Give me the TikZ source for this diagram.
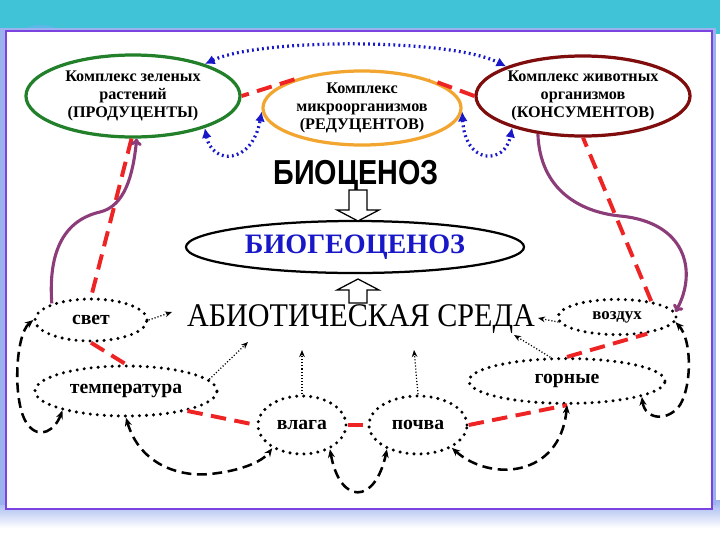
\documentclass[tikz,border=0pt]{standalone}
\usepackage{fontspec}
\setmainfont{Liberation Serif}
\newfontfamily\artfont{Liberation Sans}
\usetikzlibrary{shapes, arrows.meta}

\definecolor{slidecyan}{HTML}{40C3D6}
\definecolor{slidewave}{HTML}{5BB8E8}
\definecolor{slideshadow}{HTML}{9CB2EE}
\definecolor{framepurple}{HTML}{7B44E0}
\definecolor{plantgreen}{HTML}{23802A}
\definecolor{microorange}{HTML}{F2A630}
\definecolor{animalred}{HTML}{7F0D0D}
\definecolor{chainred}{HTML}{EE2424}
\definecolor{linkblue}{HTML}{1818C8}
\definecolor{flowpurple}{HTML}{8C3C78}

\begin{document}
\begin{tikzpicture}[x=0.025cm, y=-0.025cm,
    complex/.style = {draw, ellipse, line width=2.3pt, fill=white, inner sep=0pt, align=center,
        font=\fontsize{11.5}{12.5}\selectfont\bfseries},
    factor/.style = {draw, ellipse, line width=2.4pt, dash pattern=on 0pt off 5pt, line cap=round,
        inner sep=0pt, font=\fontsize{14}{16}\selectfont\bfseries},
    hollow/.style = {draw, fill=white, line width=0.9pt},
    chain/.style = {chainred, line width=2.8pt, dash pattern=on 11pt off 6pt},
    swap/.style = {linkblue, line width=2.3pt, dash pattern=on 1.3pt off 2.3pt,
        {Latex[length=7pt, width=7pt]}-{Latex[length=7pt, width=7pt]}},
    flow/.style = {flowpurple, line width=2.2pt, -{To[length=5pt, width=8pt]}},
    effect/.style = {line width=0.9pt, dash pattern=on 0.8pt off 1.4pt, -{Stealth[length=5pt, width=4pt]}},
    feedback/.style = {line width=1.8pt, dash pattern=on 7pt off 4pt,
        {Stealth[length=6pt, width=5pt]}-{Stealth[length=6pt, width=5pt]}}]

    \fill[white] (0, 0) rectangle (720, 540);
    \fill[slidecyan] (0, 0) rectangle (720, 34);
    \fill[slidewave] (20, 34) .. controls (25, 22) and (55, 22) .. (65, 34) -- cycle;
    \shade[top color=slideshadow, bottom color=white] (0, 500) rectangle (720, 528);
    \fill[slideshadow] (0, 28) rectangle (716, 505);
    \draw[framepurple, line width=2pt, fill=white] (6, 31) rectangle (712, 509);

    \node[complex, draw=plantgreen, minimum width=5.35cm, minimum height=2.05cm] at (133, 96) (P) {Комплекс зеленых\\растений\\(ПРОДУЦЕНТЫ)};
    \node[complex, draw=microorange, minimum width=4.95cm, minimum height=1.85cm] at (362, 108) (R) {Комплекс\\микроорганизмов\\(РЕДУЦЕНТОВ)};
    \node[complex, draw=animalred, minimum width=5.35cm, minimum height=2.0cm] at (583, 96) (K) {Комплекс животных\\организмов\\(КОНСУМЕНТОВ)};

    \node[font=\artfont\bfseries\fontsize{22}{24}\selectfont] at (356, 176) (BC) {\scalebox{0.93}[1.12]{БИОЦЕНОЗ}};
    \node[draw, ellipse, line width=1.6pt, minimum width=8.45cm, minimum height=1.3cm, text=linkblue,
        font=\fontsize{20}{22}\selectfont\bfseries] at (355, 247) (BGC) {БИОГЕОЦЕНОЗ};
    \node[font=\fontsize{21}{24}\selectfont] at (361, 319) (AS) {\scalebox{1.02}[1.12]{АБИОТИЧЕСКАЯ СРЕДА}};
    \draw[hollow] (349, 190) -- (367, 190) -- (367, 210) -- (379, 210) -- (358, 221) -- (337, 210) -- (349, 210) -- cycle;
    \draw[hollow] (349, 303) -- (367, 303) -- (367, 290) -- (379, 290) -- (358, 279) -- (337, 290) -- (349, 290) -- cycle;

    \node[factor, minimum width=2.8cm, minimum height=1.05cm] at (91, 320) (L) {свет};
    \node[factor, minimum width=4.55cm, minimum height=1.25cm] at (126, 391) (T) {температура};
    \node[factor, minimum width=2.2cm, minimum height=1.45cm] at (302, 425) (W) {влага};
    \node[factor, minimum width=2.45cm, minimum height=1.45cm] at (418, 425) (S) {почва};
    \node[factor, minimum width=4.9cm, minimum height=1.12cm] at (567, 381) (M) {горные};
    \node[factor, minimum width=2.95cm, minimum height=0.88cm, font=\fontsize{12}{14}\selectfont\bfseries] at (617, 317) (V) {воздух};

    \coordinate (aL) at (172, 312);
    \coordinate (aT) at (248, 342);
    \coordinate (aW) at (302, 350);
    \coordinate (aS) at (414, 350);
    \coordinate (aM) at (514, 335);
    \coordinate (aV) at (538, 318);

    \draw[chain] (P.-92) -- (L.north);
    \draw[chain] (L.south) -- (T.north);
    \draw[chain] (T.-18) -- (W.west);
    \draw[chain] (W.east) -- (S.west);
    \draw[chain] (S.east) -- (M.south);
    \draw[chain] (M.north) -- (V.-29);
    \draw[chain] (V.25) -- (K.south);
    \draw[chain] (K.west) -- (R.23);
    \draw[chain] (R.157) -- (P.east);

    \draw[swap] (P.24) .. controls (260, 38) and (450, 38) .. (K.159);
    \draw[swap] (P.-24) .. controls (212, 165) and (252, 165) .. (R.182);
    \draw[swap] (R.-2) .. controls (465, 165) and (505, 165) .. (K.204);

    \draw[flow] (L.157) .. controls (48, 250) and (65, 220) .. (100, 212) .. controls (125, 206) and (133, 175) .. (P.-85);
    \draw[flow] (K.220) .. controls (540, 190) and (580, 212) .. (620, 216) .. controls (685, 222) and (698, 270) .. (V.5);

    \draw[effect] (L.east) -- (aL);
    \draw[effect] (T.8) -- (aT);
    \draw[effect] (W.north) -- (aW);
    \draw[effect] (S.north) -- (aS);
    \draw[effect] (M.125) -- (aM);
    \draw[effect] (V.185) -- (aV);

    \draw[feedback] (L.west) .. controls (15, 335) and (12, 405) .. (28, 425) .. controls (40, 440) and (55, 430) .. (T.197);
    \draw[feedback] (T.south) .. controls (140, 465) and (180, 477) .. (210, 474) .. controls (240, 471) and (262, 462) .. (W.218);
    \draw[feedback] (W.-41) .. controls (340, 505) and (375, 505) .. (S.218);
    \draw[feedback] (S.-34) .. controls (490, 482) and (560, 478) .. (M.south);
    \draw[feedback] (M.-12) .. controls (645, 420) and (668, 422) .. (680, 405) .. controls (692, 385) and (692, 340) .. (V.-5);
\end{tikzpicture}
\end{document}
